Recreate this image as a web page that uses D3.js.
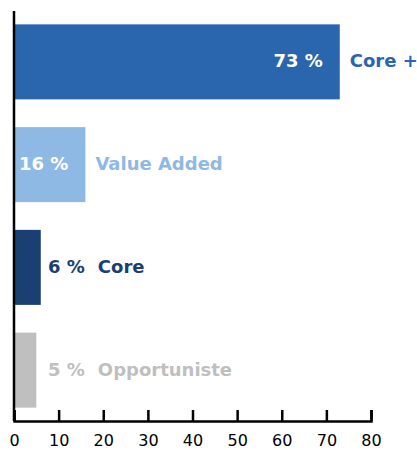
<!DOCTYPE html>
<html lang="fr">
<head>
    <meta charset="UTF-8">
    <script src="https://d3js.org/d3.v7.min.js"></script>
    <title>Répartition</title>
    <style>
        body { margin: 0; background: #fff; }
        text.val, text.name {
            font-family: 'DejaVu Sans', sans-serif;
            font-weight: bold;
            font-size: 18px;
            dominant-baseline: central;
        }
        .axis text {
            font-family: 'DejaVu Sans', sans-serif;
            font-size: 16px;
            fill: #000;
        }
    </style>
</head>
<body>
<svg height="450" width="417"></svg>
<script>
    const width = 417, height = 450;

    const categories = ["Core +", "Value Added", "Core", "Opportuniste"];
    const values = [73, 16, 6, 5];
    const colors = ["#2966AE", "#8EB9E4", "#193F73", "#BFBFBF"];
    const ticks = [0, 10, 20, 30, 40, 50, 60, 70, 80];

    const svg = d3.select("svg");
    const x = d3.scaleLinear().domain([0, 80]).range([14, 371]);
    const y = d3.scaleBand().domain(categories).range([11, 421])
            .paddingInner(0.27).paddingOuter(0.13);

    const rows = categories.map((c, i) => ({name: c, value: values[i], color: colors[i]}));

    svg.selectAll("rect.bar").data(rows).enter().append("rect")
            .attr("class", "bar")
            .attr("x", x(0))
            .attr("y", d => y(d.name))
            .attr("width", d => x(d.value) - x(0))
            .attr("height", y.bandwidth())
            .style("fill", d => d.color);

    // axis ticks point up into the plot
    const axis = d3.axisBottom(x).tickValues(ticks).tickSizeInner(-11).tickSizeOuter(-11).tickPadding(14);
    const g = svg.append("g").attr("class", "axis")
            .attr("transform", `translate(0,${421})`)
            .call(axis);
    g.select(".domain").attr("stroke", "#000").attr("stroke-width", 2.5);
    g.selectAll(".tick line").attr("stroke", "#000").attr("stroke-width", 2.5);

    svg.append("line")
            .attr("x1", x(0)).attr("x2", x(0))
            .attr("y1", 11).attr("y2", 421)
            .attr("stroke", "#000").attr("stroke-width", 2.5);

    const inside = d => d.value > 10;

    rows.forEach(d => {
        const cy = y(d.name) + y.bandwidth() / 2 - 1;
        const v = svg.append("text").attr("class", "val")
                .attr("y", cy)
                .attr("x", inside(d) ? x(d.value) - 17 : x(0) + 34)
                .attr("text-anchor", inside(d) ? "end" : "start")
                .style("fill", inside(d) ? "#fff" : d.color)
                .text(d.value + " %");
        const nx = inside(d) ? x(d.value) + 10
                : x(0) + 34 + v.node().getComputedTextLength() + 13;
        svg.append("text").attr("class", "name")
                .attr("x", nx).attr("y", cy)
                .style("fill", d.color)
                .text(d.name);
    });
</script>
</body>
</html>
